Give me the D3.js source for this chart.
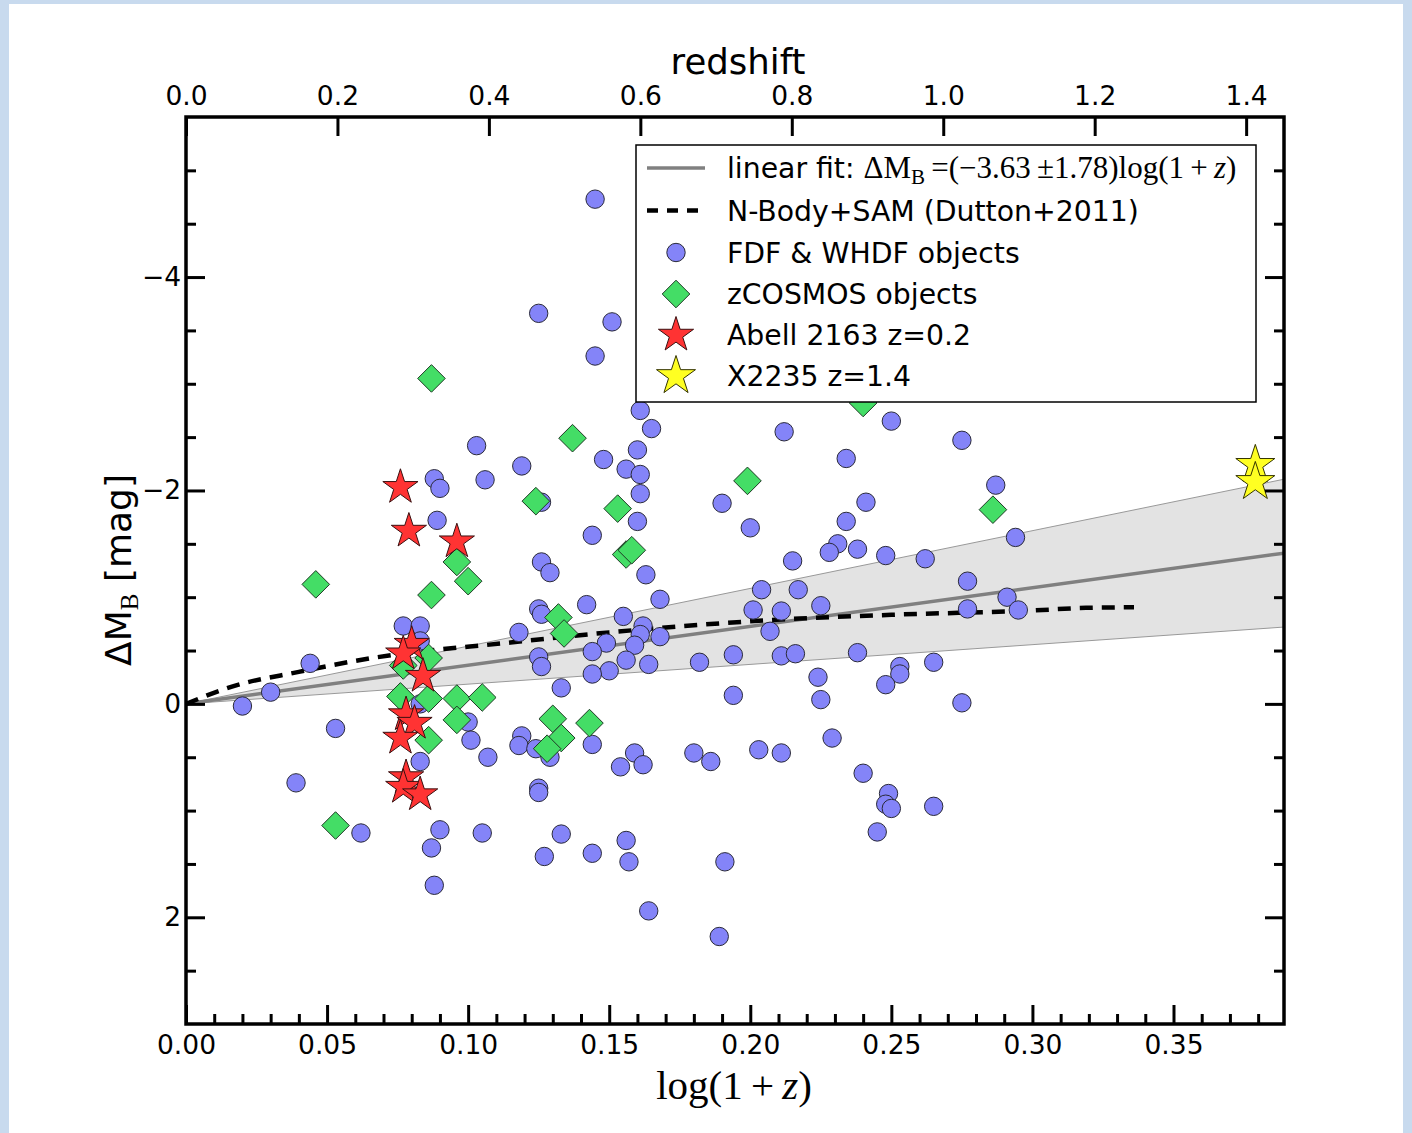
<!DOCTYPE html>
<html><head><meta charset="utf-8">
<script src="https://cdn.jsdelivr.net/npm/d3@7"></script>
<style>
html,body{margin:0;padding:0;background:#c8daee;}
svg{display:block;}
</style></head><body>
<svg id="chart" width="1412" height="1133"></svg>
<script>
// ---- tick definitions ----
const xMajorTicks = [0, 0.05, 0.10, 0.15, 0.20, 0.25, 0.30, 0.35];
const xMinorTicks = [0.01,0.02,0.03,0.04,0.06,0.07,0.08,0.09,0.11,0.12,0.13,0.14,0.16,0.17,0.18,0.19,0.21,0.22,0.23,0.24,0.26,0.27,0.28,0.29,0.31,0.32,0.33,0.34,0.36,0.37,0.38];
const topTicks = [0, 0.2, 0.4, 0.6, 0.8, 1.0, 1.2, 1.4];
const yMajorTicks = [-4, -2, 0, 2];
const yMinorTicks = [-5, -4.5, -3.5, -3, -2.5, -1.5, -1, -0.5, 0.5, 1, 1.5, 2.5];

// ---- data (log(1+z), ΔM_B) ----
const fdfWhdf = [[0.145,-4.73],[0.125,-3.66],[0.151,-3.58],[0.145,-3.26],[0.161,-2.75],[0.165,-2.58],[0.103,-2.42],[0.212,-2.55],[0.119,-2.23],[0.148,-2.29],[0.156,-2.20],[0.160,-2.38],[0.161,-2.15],[0.161,-1.97],[0.106,-2.10],[0.088,-2.11],[0.090,-2.02],[0.089,-1.72],[0.126,-1.89],[0.190,-1.88],[0.160,-1.71],[0.200,-1.65],[0.144,-1.58],[0.126,-1.33],[0.129,-1.23],[0.163,-1.21],[0.215,-1.34],[0.168,-0.98],[0.142,-0.93],[0.204,-1.07],[0.217,-1.07],[0.125,-0.89],[0.126,-0.84],[0.155,-0.82],[0.201,-0.88],[0.211,-0.87],[0.118,-0.67],[0.162,-0.73],[0.161,-0.65],[0.168,-0.63],[0.207,-0.68],[0.149,-0.57],[0.159,-0.55],[0.144,-0.49],[0.125,-0.44],[0.126,-0.35],[0.156,-0.41],[0.164,-0.37],[0.182,-0.39],[0.194,-0.46],[0.211,-0.45],[0.216,-0.47],[0.150,-0.31],[0.144,-0.28],[0.133,-0.15],[0.194,-0.08],[0.077,-0.73],[0.083,-0.73],[0.083,-0.59],[0.044,-0.38],[0.030,-0.11],[0.020,0.02],[0.083,0.00],[0.053,0.23],[0.100,0.17],[0.101,0.34],[0.107,0.50],[0.083,0.54],[0.039,0.74],[0.062,1.21],[0.090,1.18],[0.105,1.21],[0.087,1.35],[0.088,1.70],[0.119,0.30],[0.118,0.39],[0.124,0.42],[0.129,0.50],[0.144,0.38],[0.159,0.46],[0.162,0.57],[0.154,0.59],[0.180,0.46],[0.186,0.54],[0.203,0.43],[0.211,0.46],[0.125,0.79],[0.125,0.83],[0.133,1.22],[0.156,1.28],[0.127,1.43],[0.144,1.40],[0.157,1.48],[0.191,1.48],[0.164,1.94],[0.189,2.18],[0.250,-2.65],[0.275,-2.47],[0.234,-2.30],[0.287,-2.05],[0.241,-1.89],[0.234,-1.71],[0.231,-1.50],[0.228,-1.42],[0.238,-1.45],[0.248,-1.39],[0.262,-1.36],[0.294,-1.56],[0.277,-1.15],[0.225,-0.92],[0.277,-0.89],[0.291,-1.00],[0.295,-0.88],[0.238,-0.48],[0.253,-0.35],[0.253,-0.28],[0.248,-0.18],[0.265,-0.39],[0.224,-0.25],[0.225,-0.04],[0.275,-0.01],[0.229,0.32],[0.240,0.65],[0.249,0.84],[0.248,0.94],[0.250,0.98],[0.265,0.96],[0.245,1.20]];
const zcosmos = [[0.087,-3.05],[0.137,-2.49],[0.199,-2.09],[0.124,-1.90],[0.153,-1.83],[0.156,-1.40],[0.158,-1.44],[0.096,-1.33],[0.100,-1.15],[0.046,-1.12],[0.087,-1.02],[0.132,-0.81],[0.134,-0.66],[0.086,-0.43],[0.077,-0.36],[0.076,-0.07],[0.086,-0.05],[0.096,-0.05],[0.105,-0.06],[0.096,0.15],[0.086,0.34],[0.130,0.14],[0.143,0.18],[0.133,0.32],[0.128,0.42],[0.053,1.14],[0.240,-2.82],[0.286,-1.82]];
const abell2163 = [[0.076,-2.03],[0.079,-1.62],[0.096,-1.52],[0.080,-0.56],[0.077,-0.47],[0.084,-0.26],[0.078,0.10],[0.081,0.18],[0.076,0.32],[0.078,0.69],[0.077,0.78],[0.083,0.85]];
const x2235 = [[0.379,-2.24],[0.379,-2.08]];
const nbodySam = [[0,0],[0.016,-0.16],[0.04,-0.30],[0.066,-0.43],[0.115,-0.575],[0.15,-0.67],[0.2175,-0.80],[0.25,-0.835],[0.3,-0.875],[0.319,-0.90],[0.336,-0.905]];
const fitSlope = -3.63, fitErr = 1.78;

// ---- layout ----
const svg = d3.select("#chart");
const L = 186, R = 1284, T = 117, B = 1024;
const xMax = Math.log10(2.45);
const x = d3.scaleLinear().domain([0, xMax]).range([L, R]);
const xTop = d3.scaleLinear().domain([0, 1.45]).range([L, R]);
const y = d3.scaleLinear().domain([-5.5, 3]).range([T, B]);
const sans = "'DejaVu Sans', 'Bitstream Vera Sans', sans-serif";
const serif = "'Liberation Serif', 'DejaVu Serif', serif";

svg.append("rect").attr("x", 9).attr("y", 4).attr("width", 1394).attr("height", 1129).attr("fill", "#fff");

const plot = svg.append("g");
plot.append("clipPath").attr("id", "clip").append("rect").attr("x", L).attr("y", T).attr("width", R - L).attr("height", B - T);
const g = plot.append("g").attr("clip-path", "url(#clip)");

// fit band
const fitXs = [0, xMax];
g.append("path").datum(fitXs)
  .attr("d", d3.area().x(d => x(d)).y0(d => y((fitSlope + fitErr) * d)).y1(d => y((fitSlope - fitErr) * d)))
  .attr("fill", "#e3e3e3");
[fitSlope + fitErr, fitSlope - fitErr].forEach(s => {
  g.append("path").datum(fitXs).attr("d", d3.line().x(d => x(d)).y(d => y(s * d)))
    .attr("stroke", "#999").attr("stroke-width", 1).attr("fill", "none");
});
g.append("path").datum(fitXs).attr("d", d3.line().x(d => x(d)).y(d => y(fitSlope * d)))
  .attr("stroke", "#808080").attr("stroke-width", 3.5).attr("fill", "none");
// N-body dashed
g.append("path").datum(nbodySam).attr("d", d3.line().x(d => x(d[0])).y(d => y(d[1])).curve(d3.curveMonotoneX))
  .attr("stroke", "#000").attr("stroke-width", 4.5).attr("stroke-dasharray", "13,9").attr("fill", "none");

// markers
function starPath(Ro) {
  const ri = Ro * 0.382; const p = [];
  for (let i = 0; i < 10; i++) { const a = -Math.PI / 2 + i * Math.PI / 5; const r = i % 2 ? ri : Ro; p.push([r * Math.cos(a), r * Math.sin(a)]); }
  return "M" + p.map(q => q[0].toFixed(2) + "," + q[1].toFixed(2)).join("L") + "Z";
}
function diamondPath(h) { return `M0,${-h}L${h},0L0,${h}L${-h},0Z`; }

g.selectAll("circle.fdf").data(fdfWhdf).join("circle").attr("class", "fdf")
  .attr("cx", d => x(d[0])).attr("cy", d => y(d[1])).attr("r", 9.2)
  .attr("fill", "#8484f8").attr("stroke", "#2a2a3a").attr("stroke-width", 1);
g.selectAll("path.zc").data(zcosmos).join("path").attr("class", "zc")
  .attr("d", diamondPath(13.8)).attr("transform", d => `translate(${x(d[0])},${y(d[1])})`)
  .attr("fill", "#44dd66").attr("stroke", "#1f3a25").attr("stroke-width", 1);
g.selectAll("path.ab").data(abell2163).join("path").attr("class", "ab")
  .attr("d", starPath(18.5)).attr("transform", d => `translate(${x(d[0])},${y(d[1])})`)
  .attr("fill", "#ff3333").attr("stroke", "#3a1010").attr("stroke-width", 1);
g.selectAll("path.xc").data(x2235).join("path").attr("class", "xc")
  .attr("d", starPath(20.5)).attr("transform", d => `translate(${x(d[0])},${y(d[1])})`)
  .attr("fill", "#ffff22").attr("stroke", "#333300").attr("stroke-width", 1);

// axes
const TFS = 26.5;
function styleAxis(sel) {
  sel.select(".domain").remove();
  sel.selectAll(".tick line").attr("stroke", "#000").attr("stroke-width", 3);
  sel.selectAll(".tick text").attr("font-family", sans).attr("font-size", TFS).attr("fill", "#000");
}
const tickFmt2 = d => d.toFixed(2);
svg.append("g").attr("transform", `translate(0,${B})`)
  .call(d3.axisBottom(x).tickValues(xMajorTicks).tickFormat(tickFmt2).tickSize(-19).tickPadding(11))
  .call(styleAxis);
svg.append("g").attr("transform", `translate(0,${B})`)
  .call(d3.axisBottom(x).tickValues(xMinorTicks).tickFormat("").tickSize(-10))
  .call(styleAxis);
svg.append("g").attr("transform", `translate(0,${T})`)
  .call(d3.axisTop(xTop).tickValues(topTicks).tickFormat(d => d.toFixed(1)).tickSize(-19).tickPadding(12))
  .call(styleAxis);
svg.append("g").attr("transform", `translate(${L},0)`)
  .call(d3.axisLeft(y).tickValues(yMajorTicks).tickFormat(d => d < 0 ? "\u2212" + Math.abs(d) : String(d)).tickSize(-19).tickPadding(5))
  .call(styleAxis);
svg.append("g").attr("transform", `translate(${L},0)`)
  .call(d3.axisLeft(y).tickValues(yMinorTicks).tickFormat("").tickSize(-10))
  .call(styleAxis);
svg.append("g").attr("transform", `translate(${R},0)`)
  .call(d3.axisRight(y).tickValues(yMajorTicks).tickFormat("").tickSize(-19))
  .call(styleAxis);
svg.append("g").attr("transform", `translate(${R},0)`)
  .call(d3.axisRight(y).tickValues(yMinorTicks).tickFormat("").tickSize(-10))
  .call(styleAxis);

// frame
svg.append("rect").attr("x", L).attr("y", T).attr("width", R - L).attr("height", B - T)
  .attr("fill", "none").attr("stroke", "#000").attr("stroke-width", 3.5);

// axis titles
svg.append("text").attr("x", 738).attr("y", 74).attr("text-anchor", "middle")
  .attr("font-family", sans).attr("font-size", 35.5).text("redshift");
const xl = svg.append("text").attr("x", 734).attr("y", 1099).attr("text-anchor", "middle")
  .attr("font-family", serif).attr("font-size", 41);
xl.append("tspan").text("log(1\u2009+\u2009");
xl.append("tspan").attr("font-style", "italic").text("z");
xl.append("tspan").text(")");

const yl = svg.append("text").attr("transform", "translate(131,570) rotate(-90)").attr("text-anchor", "middle")
  .attr("font-family", sans).attr("font-size", 36);
yl.append("tspan").text("\u0394M");
yl.append("tspan").attr("font-family", serif).attr("font-size", 25).attr("dy", 7).text("B");
yl.append("tspan").attr("dy", -7).text(" [mag]");

// legend
const lg = svg.append("g");
lg.append("rect").attr("x", 636).attr("y", 145).attr("width", 620).attr("height", 257)
  .attr("fill", "#fff").attr("stroke", "#000").attr("stroke-width", 1.5);
const rows = [168, 210.5, 252.5, 294, 335, 376];
const hx = 676, tx = 727;
lg.append("line").attr("x1", 647).attr("x2", 705).attr("y1", rows[0]).attr("y2", rows[0]).attr("stroke", "#808080").attr("stroke-width", 3.5);
lg.append("line").attr("x1", 647).attr("x2", 705).attr("y1", rows[1]).attr("y2", rows[1]).attr("stroke", "#000").attr("stroke-width", 4.5).attr("stroke-dasharray", "11,9");
lg.append("circle").attr("cx", hx).attr("cy", rows[2]).attr("r", 9.2).attr("fill", "#8484f8").attr("stroke", "#2a2a3a");
lg.append("path").attr("d", diamondPath(13.8)).attr("transform", `translate(${hx},${rows[3]})`).attr("fill", "#44dd66").attr("stroke", "#1f3a25");
lg.append("path").attr("d", starPath(18.5)).attr("transform", `translate(${hx},${rows[4]})`).attr("fill", "#ff3333").attr("stroke", "#3a1010");
lg.append("path").attr("d", starPath(20.5)).attr("transform", `translate(${hx},${rows[5]})`).attr("fill", "#ffff22").attr("stroke", "#333300");

const LFS = 28.3, MFS = 31;
const t0 = lg.append("text").attr("x", tx).attr("y", rows[0] + 10).attr("font-family", sans).attr("font-size", LFS);
t0.append("tspan").text("linear fit: ");
t0.append("tspan").attr("font-family", serif).attr("font-size", MFS).text("\u0394M");
t0.append("tspan").attr("font-family", serif).attr("font-size", 21).attr("dy", 6).text("B");
t0.append("tspan").attr("font-family", serif).attr("font-size", MFS).attr("dy", -6).text("\u2009=(\u22123.63\u2009\u00b11.78)log(1\u2009+\u2009");
t0.append("tspan").attr("font-family", serif).attr("font-size", MFS).attr("font-style", "italic").text("z");
t0.append("tspan").attr("font-family", serif).attr("font-size", MFS).text(")");
const labels = ["N-Body+SAM (Dutton+2011)", "FDF & WHDF objects", "zCOSMOS objects", "Abell 2163 z=0.2", "X2235 z=1.4"];
labels.forEach((s, i) => {
  lg.append("text").attr("x", tx).attr("y", rows[i + 1] + 10).attr("font-family", sans).attr("font-size", LFS).text(s);
});
</script>
</body></html>
